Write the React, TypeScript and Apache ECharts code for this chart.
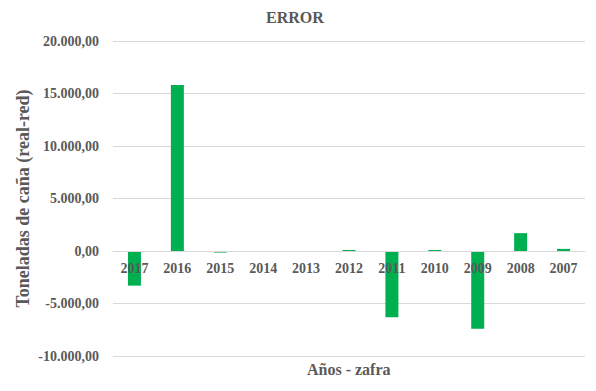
import React, { useEffect, useRef } from "react";
import * as echarts from "echarts";

const categories = ["2017", "2016", "2015", "2014", "2013", "2012", "2011", "2010", "2009", "2008", "2007"];
const errorValues = [-3300, 15800, -150, 0, 0, 100, -6300, 100, -7400, 1700, 200];
const yMin = -10000;
const yMax = 20000;
const yInterval = 5000;

const FONT = "'Liberation Serif', 'Times New Roman', serif";
const GRAY = "#595959";

const GRID_TOP = 41;
const GRID_BOTTOM = 35;
const HEIGHT = 391;

function fmt(v: number): string {
  const neg = v < 0;
  const abs = Math.abs(v);
  const intPart = Math.floor(abs).toString().replace(/\B(?=(\d{3})+(?!\d))/g, ".");
  return (neg ? "-" : "") + intPart + ",00";
}

export default function App() {
  const ref = useRef<HTMLDivElement>(null);
  useEffect(() => {
    if (!ref.current) return;
    const chart = echarts.init(ref.current, undefined, { renderer: "svg" });
    const plotH = HEIGHT - GRID_TOP - GRID_BOTTOM;
    const zeroOffset = -plotH * (0 - yMin) / (yMax - yMin);
    chart.setOption({
      animation: false,
      backgroundColor: "#ffffff",
      title: {
        text: "ERROR",
        left: 266,
        top: 9,
        padding: 0,
        textStyle: { fontFamily: FONT, fontWeight: "bold", fontSize: 16, color: GRAY },
      },
      grid: { left: 113, right: 11, top: GRID_TOP, bottom: GRID_BOTTOM, containLabel: false },
      xAxis: {
        type: "category",
        data: categories,
        offset: zeroOffset,
        axisLine: { show: true, onZero: false, lineStyle: { color: "#d9d9d9" } },
        axisTick: { show: false },
        axisLabel: {
          margin: 10,
          fontFamily: FONT,
          fontWeight: "bold",
          fontSize: 14,
          color: GRAY,
        },
        z: 3,
      },
      yAxis: {
        type: "value",
        min: yMin,
        max: yMax,
        interval: yInterval,
        name: "Toneladas de caña (real-red)",
        nameLocation: "middle",
        nameGap: 81,
        nameMoveOverlap: false,
        nameTextStyle: { fontFamily: FONT, fontWeight: "bold", fontSize: 18, color: GRAY },
        axisLine: { show: false },
        axisTick: { show: false },
        splitLine: { lineStyle: { color: "#d9d9d9" } },
        axisLabel: {
          margin: 14,
          fontFamily: FONT,
          fontWeight: "bold",
          fontSize: 14,
          color: GRAY,
          formatter: (v: number) => fmt(v),
        },
      },
      graphic: [
        {
          type: "text",
          left: 349 - 42,
          top: 361,
          style: {
            text: "Años - zafra",
            fontFamily: FONT,
            fontWeight: "bold",
            fontSize: 16,
            fill: GRAY,
          },
        },
      ],
      series: [
        {
          type: "bar",
          data: errorValues,
          barWidth: 13,
          itemStyle: { color: "#00b050" },
          z: 2,
        },
      ],
    });
    return () => chart.dispose();
  }, []);
  return (
    <div
      ref={ref}
      style={{ position: "absolute", left: 0, top: 0, width: 596, height: HEIGHT }}
    />
  );
}
